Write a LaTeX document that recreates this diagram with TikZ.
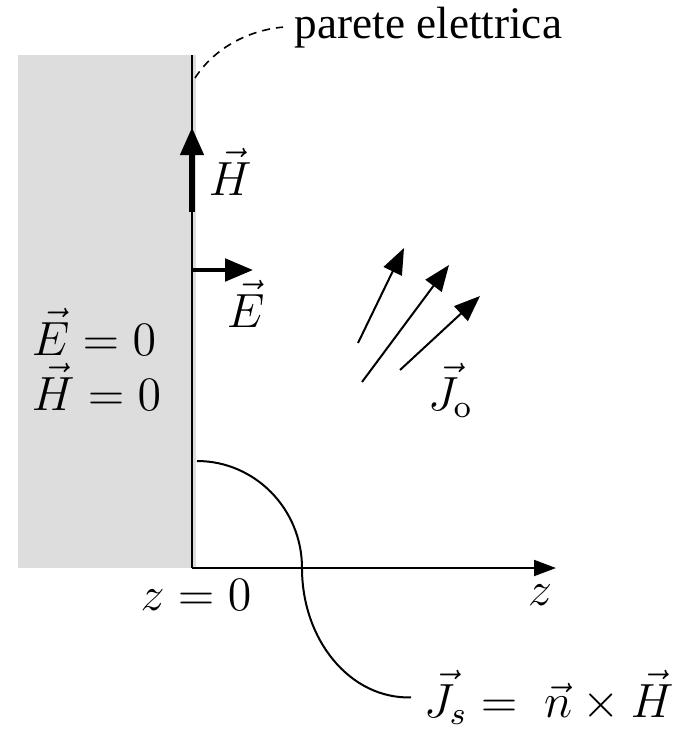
\documentclass[tikz,border=0pt]{standalone}
\usepackage{fontspec}
\newfontfamily\labelfont{Liberation Serif}
\usetikzlibrary{arrows.meta}
\tikzset{
  wall/.style={line width=0.5pt},
  mlabel/.style={inner sep=0pt, font=\fontsize{12}{14}\selectfont},
  bigtip/.style={-{Triangle[length=7pt,width=5.6pt]}},
  jarrow/.style={line width=0.5pt,-{Triangle[length=6.5pt,width=5pt]}},
}
\begin{document}
\begin{tikzpicture}[x=0.25pt,y=-0.25pt]
\useasboundingbox (0,0) rectangle (689,730);
% conductor region
\fill[fill={rgb,255:red,221;green,221;blue,221}] (18,55) rectangle (196,568);
\draw[wall] (192,55) -- (192,568);
% axis
\coordinate (o) at (192,568);
\coordinate (zend) at (556,568);
\draw[line width=0.5pt,-{Triangle[length=5.5pt,width=4pt]}] (o) -- (zend);
\node[mlabel, anchor=base] (zl) at (540,605) {$z$};
\node[mlabel, anchor=base] (z0) at (196,610) {$z=0$};
% H arrow
\coordinate (hs) at (192,212);
\coordinate (he) at (192,127);
\draw[line width=1.5pt,bigtip] (hs) -- (he);
\node[mlabel, anchor=base west] (hl) at (208,195) {$\vec H$};
% E arrow
\coordinate (es) at (192,270);
\coordinate (ee) at (253,270);
\draw[line width=1pt,bigtip] (es) -- (ee);
\node[mlabel, anchor=base west] (el) at (226,327) {$\vec E$};
% inside labels
\node[mlabel, anchor=base west] (e0) at (31,355) {$\vec E=0$};
\node[mlabel, anchor=base west] (h0) at (31,410) {$\vec H=0$};
% J0 arrows
\coordinate (a1) at (358,343); \coordinate (b1) at (404,248);
\coordinate (a2) at (362,382); \coordinate (b2) at (449,265);
\coordinate (a3) at (400,370); \coordinate (b3) at (480,296);
\draw[jarrow] (a1) -- (b1);
\draw[jarrow] (a2) -- (b2);
\draw[jarrow] (a3) -- (b3);
\node[mlabel, anchor=base west] (jo) at (427,410) {$\vec J_{\mathrm{o}}$};
% parete elettrica
\node[inner sep=0pt, anchor=base west, font=\labelfont\fontsize{11.3}{13}\selectfont] (pe) at (294,38) {parete elettrica};
\coordinate (pw) at (195,78);
\draw[line width=0.4pt, dash pattern=on 2pt off 1.5pt] (pw) .. controls (215,47) and (250,30) .. ([xshift=-2.75pt]pe.west);
% surface current
\node[mlabel, anchor=base west] (js) at (423,717) {$\vec J_s = \;\vec n\times\vec H$};
\coordinate (cs) at (197,461);
\draw[line width=0.5pt] (cs) .. controls (255,461) and (302,509) .. (302,568)
   .. controls (302,640) and (350,699) .. ([xshift=-3pt]js.west);
\end{tikzpicture}
\end{document}
